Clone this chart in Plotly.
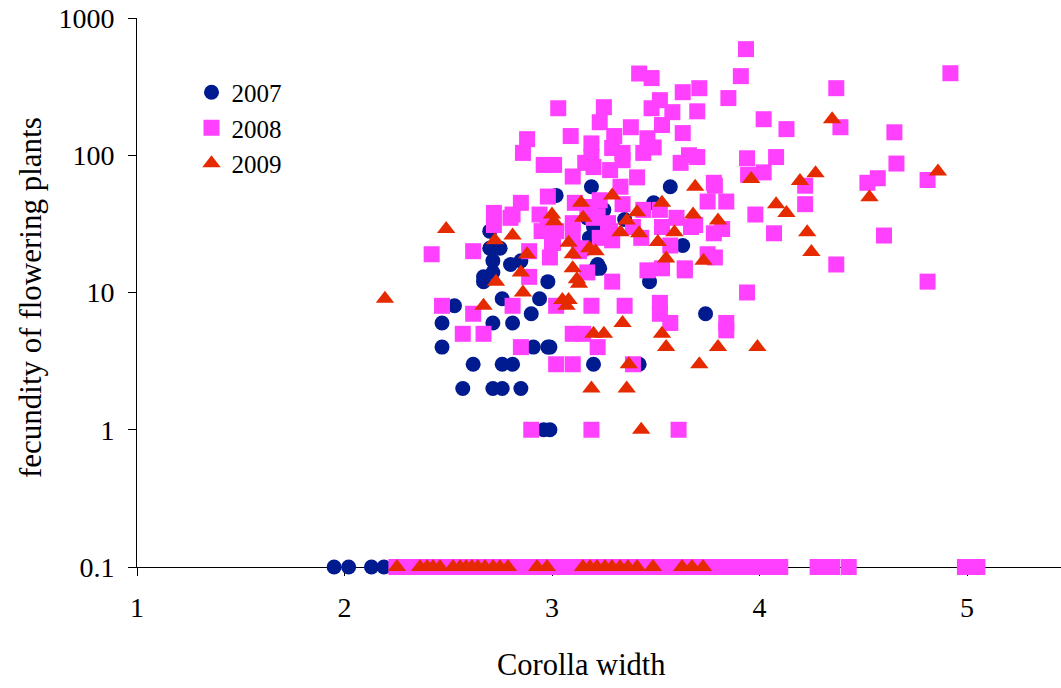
import plotly.graph_objects as go

# ---- data ----
# 2007
x2007 = [2.47, 2.47, 2.53, 2.57, 2.62, 2.67, 2.67, 2.70, 2.70, 2.715, 2.715, 2.715, 2.715,
         2.75, 2.76, 2.76, 2.76, 2.80, 2.81, 2.81, 2.85, 2.85, 2.90, 2.91, 2.94, 2.96,
         2.98, 2.98, 2.99, 3.02, 3.15, 3.17, 3.18, 3.19, 3.20, 3.21, 3.22, 3.23, 3.35,
         3.42, 3.47, 3.49, 3.57, 3.63, 3.74, 2.99, 3.20, 3.25,
         1.95, 2.02, 2.13, 2.19, 2.35, 2.50, 2.65, 2.80]
y2007 = [6, 4, 8, 2, 3, 12, 13, 28, 21, 17, 14, 6, 2,
         21, 9, 3, 2, 16, 6, 3, 17, 2, 7, 4, 9, 1,
         12, 4, 1, 51, 21, 35, 25, 59, 3, 15, 16, 15, 34,
         3, 12, 45, 59, 22, 7, 4, 30, 40,
         0.1, 0.1, 0.1, 0.1, 0.1, 0.1, 0.1, 0.1]

# 2008
x2008 = [4.92, 3.935, 3.91, 3.85, 3.71, 3.63, 3.42, 3.48, 3.03, 3.25, 3.23, 3.09, 2.88,
         2.86, 3.19, 3.30, 3.38, 3.53, 3.46, 3.63, 3.66, 3.48, 3.52, 3.58, 3.70, 4.02,
         4.13, 4.08, 3.94, 3.19, 2.96, 3.01, 3.29, 3.34, 3.49, 3.44, 3.70, 4.37, 4.39,
         4.65, 4.66, 4.81, 4.57, 4.52, 4.60, 4.81, 4.37, 4.22, 4.22, 4.02, 3.945, 4.07,
         3.98, 3.785, 3.75, 3.84, 3.78, 3.82, 3.69, 3.785, 3.64, 3.94, 3.84, 3.84, 3.61,
         3.57, 3.10, 3.16, 3.20, 3.28, 3.34, 3.41, 3.33, 3.62, 3.78, 2.72, 2.72, 2.85,
         2.80, 2.81, 2.94, 2.98, 3.11, 3.23, 3.20, 3.27, 3.44, 3.60, 3.67, 2.89, 3.00,
         2.99, 3.13, 3.23, 3.29, 3.43, 3.46, 3.53, 3.64, 3.75, 2.42, 2.62, 3.57, 2.47,
         2.62, 2.57, 2.67, 2.85, 2.81, 3.02, 3.19, 3.35, 3.52, 3.52, 3.10, 3.15, 3.22,
         3.02, 3.10, 3.39, 2.90, 3.19, 3.29, 3.17, 2.89, 3.14, 2.95, 3.005, 2.98, 3.10,
         3.22, 3.10, 3.02, 3.34, 3.17, 3.52, 3.53, 3.39, 3.28,
         2.25, 2.31, 2.37, 2.43, 2.49, 2.55, 2.61, 2.67, 2.73, 2.79, 2.85, 2.91, 2.97,
         3.03, 3.09, 3.15, 3.21, 3.27, 3.33, 3.39, 3.45, 3.51, 3.57, 3.63, 3.69, 3.75,
         3.81, 3.87, 3.93, 3.99, 4.05, 4.10, 4.28, 4.35, 4.43, 4.99, 5.05]
y2008 = [396, 593, 377, 261, 308, 288, 394, 365, 220, 224, 174, 138, 131,
         104, 122, 138, 160, 166, 133, 145, 100, 220, 252, 206, 209, 183,
         155, 97, 95, 97, 85, 85, 113, 104, 114, 104, 97, 308, 160,
         147, 87, 66, 68, 63, 26, 12, 16, 60, 44, 75, 72, 27,
         37, 60, 46, 46, 27, 29, 31, 18, 15, 10, 6, 5.3, 1,
         6, 70, 88, 82, 78, 92, 69, 59, 88, 63, 38, 31, 45,
         35, 37, 37, 50, 45, 47, 35, 32, 40, 35, 30, 20, 23,
         18, 20, 25, 24, 25, 14.5, 15, 14.5, 19, 19, 20, 22, 8,
         7, 5, 5, 4, 8, 8, 8, 8, 8.4, 7, 5, 5, 4,
         3, 3, 3, 1, 1, 12, 14, 13, 21, 28, 23, 33, 32,
         36, 27, 28, 44, 42, 40, 30, 30, 28,
         0.1, 0.1, 0.1, 0.1, 0.1, 0.1, 0.1, 0.1, 0.1, 0.1, 0.1, 0.1, 0.1,
         0.1, 0.1, 0.1, 0.1, 0.1, 0.1, 0.1, 0.1, 0.1, 0.1, 0.1, 0.1, 0.1,
         0.1, 0.1, 0.1, 0.1, 0.1, 0.1, 0.1, 0.1, 0.1, 0.1, 0.1]

# 2009
x2009 = [2.195, 2.49, 2.725, 2.81, 2.88, 2.85, 2.73, 2.67, 2.86, 3.00, 3.01, 3.14, 3.15,
         3.08, 3.10, 3.10, 3.12, 3.13, 3.05, 3.08, 3.07, 3.18, 3.21, 3.29, 3.36, 3.33,
         3.41, 3.42, 3.53, 3.51, 3.59, 3.55, 3.69, 3.68, 3.80, 3.73, 4.35, 4.86, 4.53,
         3.96, 4.195, 4.27, 4.08, 4.13, 4.23, 4.25, 3.34, 3.20, 3.25, 3.53, 3.55, 3.80,
         3.99, 3.37, 3.71, 3.19, 3.36, 3.43,
         2.253, 2.364, 2.398, 2.427, 2.46, 2.523, 2.557, 2.586, 2.614, 2.643, 2.677,
         2.716, 2.749, 2.788, 2.928, 2.976, 3.149, 3.183, 3.217, 3.255, 3.289, 3.328,
         3.366, 3.41, 3.487, 3.627, 3.675, 3.728]
y2009 = [9, 29, 24, 26, 19, 14, 12, 8, 10, 37, 33, 45, 35,
         23, 19, 15, 12.5, 11.6, 8.8, 8.8, 8, 21, 20, 51, 33.5, 27.5,
         38.5, 27, 45, 23.3, 27.5, 17.7, 59, 37, 33.5, 17, 183, 76, 49.5,
         67, 65, 74, 44, 38, 27.5, 19.7, 6, 5, 5, 5, 4, 4,
         4, 3, 3, 2, 2, 1,
         0.1, 0.1, 0.1, 0.1, 0.1, 0.1, 0.1, 0.1, 0.1, 0.1, 0.1,
         0.1, 0.1, 0.1, 0.1, 0.1, 0.1, 0.1, 0.1, 0.1, 0.1, 0.1,
         0.1, 0.1, 0.1, 0.1, 0.1, 0.1]

series_names = ["2007", "2008", "2009"]
x_ticks = [1, 2, 3, 4, 5]
y_ticks = [0.1, 1, 10, 100, 1000]
y_ticklabels = ["0.1", "1", "10", "100", "1000"]
x_title = "Corolla width"
y_title = "fecundity of flowering plants"

FONT = "Liberation Serif"

fig = go.Figure()
fig.add_trace(go.Scatter(x=x2007, y=y2007, mode="markers", name=series_names[0],
                         cliponaxis=False,
                         marker=dict(symbol="circle", size=15, color="#001A8F")))
fig.add_trace(go.Scatter(x=x2008, y=y2008, mode="markers", name=series_names[1],
                         cliponaxis=False,
                         marker=dict(symbol="square", size=16, color="#FF40FF")))
fig.add_trace(go.Scatter(x=x2009, y=y2009, mode="markers", name=series_names[2],
                         cliponaxis=False,
                         marker=dict(symbol="triangle-up", size=16, color="#E62A00")))

# full window size; page body margin removed below so the figure sits at (0, 0)
W, H = 1061, 688
L, T, B = 137, 18, 121
fig.update_layout(
    width=W, height=H,
    margin=dict(l=L, r=0, t=T, b=B, autoexpand=False),
    paper_bgcolor="white", plot_bgcolor="white",
    font=dict(family=FONT, size=28, color="black"),
    showlegend=True,
    legend=dict(x=(183.5 + 8 - L) / (W - L), y=1 - (61.5 + 8 - T) / (H - T - B),
                xanchor="left", yanchor="top",
                bgcolor="rgba(0,0,0,0)", font=dict(family=FONT, size=25, color="black"),
                itemwidth=30, tracegroupgap=0),
    xaxis=dict(range=[1, 5.453], tickvals=x_ticks, ticktext=[str(t) for t in x_ticks],
               showgrid=False, zeroline=False, showline=True, linecolor="black", linewidth=1,
               ticks="outside", ticklen=8, tickcolor="black", layer="below traces",
               ticklabelstandoff=7, ticklabeloverflow="allow",
               tickfont=dict(family=FONT, size=28, color="black")),
    yaxis=dict(type="log", range=[-1, 3], tickvals=y_ticks, ticktext=y_ticklabels,
               showgrid=False, zeroline=False, showline=True, linecolor="black", linewidth=1,
               ticks="outside", ticklen=8, tickcolor="black", layer="below traces",
               ticklabelstandoff=8, ticklabeloverflow="allow",
               tickfont=dict(family=FONT, size=28, color="black")),
    annotations=[
        dict(text=x_title, xref="paper", yref="paper", x=(581 - L) / (W - L),
             y=1 - (665 - T) / (H - T - B),
             xanchor="center", yanchor="middle", showarrow=False,
             font=dict(family=FONT, size=30.5, color="black")),
        dict(text=y_title, xref="paper", yref="paper", x=(30 - L) / (W - L),
             y=1 - (298 - T) / (H - T - B),
             xanchor="center", yanchor="middle", showarrow=False, textangle=-90,
             font=dict(family=FONT, size=31, color="black")),
    ],
)

fig.write_html("out.html",
               config={"displayModeBar": False},
               post_script="document.body.style.margin='0px';document.body.style.overflow='hidden';")
